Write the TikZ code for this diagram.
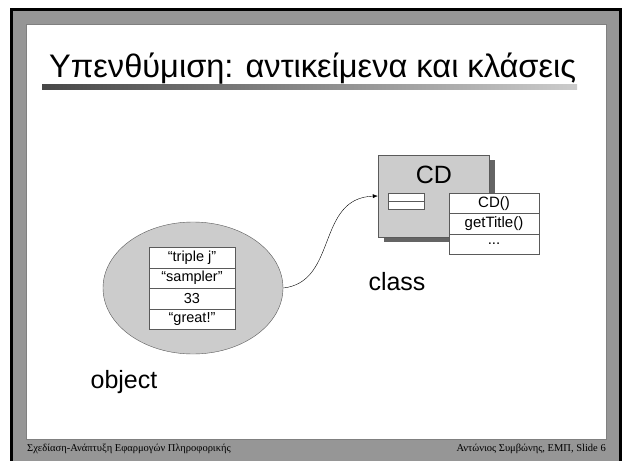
\documentclass[tikz,border=0pt]{standalone}
\usepackage{fontspec}
\setmainfont{Liberation Sans}
\newfontfamily\footfont{Liberation Serif}
\usetikzlibrary{
  shapes.geometric,
  positioning,
  shadows,
  arrows.meta}
\definecolor{framecolor}{RGB}{150,150,150}
\definecolor{framelight}{RGB}{192,192,192}
\definecolor{boxcolor}{RGB}{204,204,204}
\definecolor{edgecolor}{RGB}{90,90,90}
\definecolor{shadowcolor}{RGB}{100,100,100}
\tikzset{
  %% classbox : the grey box of the class
  classbox/.style={
    rectangle,
    draw=edgecolor,
    fill=boxcolor,
    minimum width=111pt,
    minimum height=82pt,
    drop shadow={shadow xshift=6pt, shadow yshift=-5pt,
      fill=shadowcolor, opacity=1}
  },
  %% objellipse : the grey ellipse of the object
  objellipse/.style={
    ellipse,
    draw=edgecolor,
    fill=boxcolor,
    minimum width=180pt,
    minimum height=132pt
  },
  %% fieldrow : one row of the object's fields
  fieldrow/.style={
    rectangle,
    draw=edgecolor,
    fill=white,
    minimum width=86pt,
    minimum height=20.5pt,
    inner sep=0pt,
    outer sep=0pt,
    font=\fontsize{14.5}{16}\selectfont
  },
  %% methodrow : one row of the class's methods
  methodrow/.style={
    rectangle,
    draw=edgecolor,
    fill=white,
    minimum width=90pt,
    minimum height=20.3pt,
    inner sep=0pt,
    outer sep=0pt,
    font=\fontsize{15}{17}\selectfont
  },
  %% attrrow : one (empty) row of the class's attributes
  attrrow/.style={
    rectangle,
    draw=edgecolor,
    fill=white,
    minimum width=36pt,
    minimum height=8pt,
    inner sep=0pt,
    outer sep=0pt
  },
  %% label : big label text
  label/.style={
    inner sep=0pt,
    font=\fontsize{25}{28}\selectfont
  },
  %% footer : footer text
  footer/.style={
    inner sep=0pt,
    font=\footfont\fontsize{10.5}{12}\selectfont
  }
}

\begin{document}
\begin{tikzpicture}
  [x=1pt,
  y=-1pt]
  \useasboundingbox (0,0) rectangle (622,461);

  %% slide frame
  \shade [left color=framecolor, middle color=framelight,
    right color=framecolor] (10,8) rectangle (622,461);
  \draw [line width=3pt] (11.5,461) -- (11.5,9.5) -- (620.5,9.5) -- (620.5,461);
  \draw [fill=white, draw=gray] (26,24) rectangle (606,439);

  %% title
  \node (title) [anchor=base west, inner sep=0pt,
    font=\fontsize{32.6}{36}\selectfont] at (49,77.5) {%
    Υπενθύμιση: αντικείμενα και κλάσεις};
  \shade [left color=black!72, right color=black!20] (42,84) rectangle (577,89);

  %% class
  \node (cdclass) [classbox] at (433.5,196) {};
  \node (cdname) [label] at (434,175) {CD};
  \node (attr1) [attrrow] at (406,197) {};
  \node (attr2) [attrrow, below=0pt of attr1] {};

  \node (method1) [methodrow] at (494,203.5) {CD()};
  \node (method2) [methodrow, below=0pt of method1] {getTitle()};
  \node (method3) [methodrow, below=0pt of method2] {...};

  \node (classlabel) [label] at (397,282) {class};

  %% object
  \node (obj) [objellipse] at (193,288) {};
  \node (field1) [fieldrow] at (192,257.5) {“triple j”};
  \node (field2) [fieldrow, below=0pt of field1] {“sampler”};
  \node (field3) [fieldrow, below=0pt of field2] {33};
  \node (field4) [fieldrow, below=0pt of field3] {“great!”};

  \node (objlabel) [label] at (124,382) {object};

  %% Connections
  \draw [-{Latex[length=5pt,width=4pt]}] (obj.east) .. controls (338,282)
    and (316,198) .. (cdclass.west);

  %% footer
  \node (footleft) [footer, anchor=base west] at (27,451) {%
    Σχεδίαση-Ανάπτυξη Εφαρμογών Πληροφορικής};
  \node (footright) [footer, anchor=base east] at (606,451) {%
    Αντώνιος Συμβώνης, ΕΜΠ, Slide 6};

\end{tikzpicture}
\end{document}
